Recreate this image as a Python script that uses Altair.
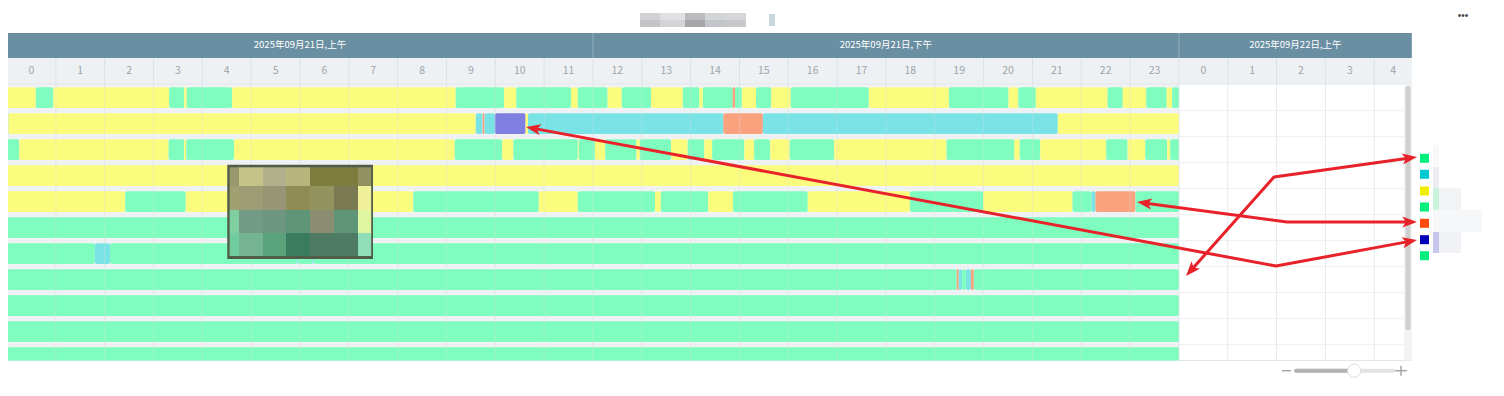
import math
import altair as alt
import pandas as pd

# ---------------- data ----------------
STATUS = ["G", "Y", "C", "S", "P"]
STATUS_FILL = ["#7ffdbe", "#fbfb7e", "#79e3e5", "#faa17e", "#7f7fe2"]

row1_edges = [0, 0.59, 0.95, 3.32, 3.63, 3.68, 4.61, 9.19, 10.18, 10.43, 11.55, 11.69, 12.30, 12.59,
              13.19, 13.84, 14.18, 14.25, 14.86, 14.91, 15.05, 15.34, 15.65, 16.05, 17.65, 19.29,
              20.51, 20.71, 21.07, 22.54, 22.85, 23.33, 23.75, 23.86, 24]
row1_states = ("Y G Y G Y G Y G Y G Y G Y G Y G Y G S G Y G Y G Y G Y G Y G Y G Y G").split()

row2_edges = [0, 0.03, 9.60, 9.74, 9.78, 9.99, 10.62, 10.67, 14.67, 15.48, 21.52, 24]
row2_states = ("C Y C S C P Y C S C Y").split()

row3_edges = [0, 0.25, 3.31, 3.63, 3.67, 4.65, 9.17, 10.14, 10.37, 11.69, 11.71, 12.04, 12.25, 12.89,
              12.96, 13.60, 13.94, 14.28, 14.44, 15.10, 15.30, 15.63, 16.03, 16.94, 19.24, 20.63,
              20.74, 21.16, 22.51, 22.95, 23.31, 23.76, 23.82, 24]
row3_states = ("G Y G Y G Y G Y G Y G Y G Y G Y G Y G Y G Y G Y G Y G Y G Y G Y G").split()

row4_edges = [0, 24]
row4_states = ["Y"]

row5_edges = [0, 2.42, 3.66, 8.32, 10.89, 11.69, 13.27, 13.39, 14.36, 14.87, 16.40, 18.49, 19.99,
              21.82, 22.21, 22.29, 23.11, 24]
row5_states = ("Y G Y G Y G Y G Y G Y G Y G C S G").split()

row6_edges = [0, 24]
row6_states = ["G"]

row7_edges = [0, 1.80, 2.11, 5.93, 5.96, 6.26, 6.29, 24]
row7_states = ("G C G C G C G").split()

row8_edges = [0, 19.45, 19.49, 19.56, 19.64, 19.74, 19.80, 24]
row8_states = ("G S C G C S G").split()

row9_edges = [0, 24]
row9_states = ["G"]
row10_edges = [0, 24]
row10_states = ["G"]
row11_edges = [0, 24]
row11_states = ["G"]

ROW_EDGES = [row1_edges, row2_edges, row3_edges, row4_edges, row5_edges, row6_edges,
             row7_edges, row8_edges, row9_edges, row10_edges, row11_edges]
ROW_STATES = [row1_states, row2_states, row3_states, row4_states, row5_states, row6_states,
              row7_states, row8_states, row9_states, row10_states, row11_states]

DAY_LABELS = ["2025年09月21日,上午", "2025年09月21日,下午", "2025年09月22日,上午"]
DAY_STARTS = [0, 12, 24]
DAY_ENDS = [12, 24, 28.77]
HOURS = list(range(29))
HOUR_LABELS = [str(h % 24) for h in HOURS]

LEGEND_COLORS = ["#00ee7b", "#00c9cf", "#f2ee00", "#00ee7b", "#ff4a0e", "#0000b8", "#00ee7b"]

# ---------------- geometry / scales ----------------
W, H = 1488, 372
PXH, PXR = 48.83, 26.0
H0 = 1.0 / PXH
H1 = H0 + W / PXH
R0 = (8 - 97.65) / PXR
R1 = R0 + H / PXR
VIEW_END = 28.77
HDR_TOP, HDR_MID, HDR_BOT = -2.487, -1.525, -0.525
ROWS_BOT = 10.11
HALF = 0.398

XS = alt.Scale(domain=[H0, H1], nice=False, zero=False)
YS = alt.Scale(domain=[R0, R1], nice=False, zero=False, reverse=True)
CJK = "Noto Sans CJK SC"
RED = "#e8222a"


def X(f):
    return alt.X(f"{f}:Q", scale=XS, axis=None)


def Y(f):
    return alt.Y(f"{f}:Q", scale=YS, axis=None)


def X2(f):
    return alt.X2(f"{f}:Q")


def Y2(f):
    return alt.Y2(f"{f}:Q")


def rects(df, **kw):
    return alt.Chart(df).mark_rect(**kw).encode(x=X("x"), x2=X2("x2"), y=Y("y"), y2=Y2("y2"))


layers = []

# header band
layers.append(rects(pd.DataFrame([dict(x=0, x2=VIEW_END, y=HDR_TOP, y2=HDR_MID)]), color="#6a8fa3"))
layers.append(alt.Chart(pd.DataFrame(dict(x=[12, 24], y=HDR_TOP, y2=HDR_MID))).mark_rule(
    color="#93adbc", strokeWidth=1).encode(x=X("x"), y=Y("y"), y2=Y2("y2")))
day_df = pd.DataFrame(dict(t=DAY_LABELS, s=DAY_STARTS, e=DAY_ENDS))
day_df["x"] = (day_df["s"] + day_df["e"]) / 2
day_df["y"] = (HDR_TOP + HDR_MID) / 2
layers.append(alt.Chart(day_df).mark_text(font=CJK, fontSize=9.5, color="#ffffff", align="center",
                                          baseline="middle").encode(x=X("x"), y=Y("y"), text="t:N"))

# hour row
layers.append(rects(pd.DataFrame([dict(x=0, x2=VIEW_END, y=HDR_MID, y2=HDR_BOT)]), color="#edf1f4"))
layers.append(alt.Chart(pd.DataFrame(dict(x=HOURS[1:], y=HDR_MID, y2=HDR_BOT))).mark_rule(
    color="#dbe2e7", strokeWidth=1).encode(x=X("x"), y=Y("y"), y2=Y2("y2")))
hr_df = pd.DataFrame(dict(h=HOURS, t=HOUR_LABELS))
hr_df["x"] = [(h + min(h + 1, VIEW_END)) / 2 for h in HOURS]
hr_df["y"] = (HDR_MID + HDR_BOT) / 2
layers.append(alt.Chart(hr_df).mark_text(font=CJK, fontSize=10.5, color="#a0a5aa", align="center",
                                         baseline="middle").encode(x=X("x"), y=Y("y"), text="t:N"))

# rows area background, grid
layers.append(rects(pd.DataFrame([dict(x=0, x2=24, y=HDR_BOT, y2=ROWS_BOT)]), color="#f0f2f4"))
layers.append(alt.Chart(pd.DataFrame(dict(x=HOURS, y=HDR_BOT, y2=ROWS_BOT))).mark_rule(
    color="#e6eaed", strokeWidth=1).encode(x=X("x"), y=Y("y"), y2=Y2("y2")))
hl = pd.DataFrame(dict(y=[i + 0.5 for i in range(10)], x=0, x2=VIEW_END))
layers.append(alt.Chart(hl).mark_rule(color="#edf0f2", strokeWidth=1).encode(x=X("x"), x2=X2("x2"), y=Y("y")))
layers.append(alt.Chart(pd.DataFrame(dict(y=[HDR_BOT, ROWS_BOT], x=0, x2=VIEW_END))).mark_rule(
    color="#e1e6ea", strokeWidth=1).encode(x=X("x"), x2=X2("x2"), y=Y("y")))

# bars
seg = []
for i, (edges, states) in enumerate(zip(ROW_EDGES, ROW_STATES)):
    for a, b, s in zip(edges[:-1], edges[1:], states):
        seg.append(dict(row=i, start=a, end=b, status=s))
seg_df = pd.DataFrame(seg)
layers.append(alt.Chart(seg_df).mark_rect(cornerRadius=2).transform_calculate(
    y0=f"datum.row - {HALF}", y1=f"min(datum.row + {HALF}, {ROWS_BOT})"
).encode(x=X("start"), x2=X2("end"), y=Y("y0"), y2=Y2("y1"),
         color=alt.Color("status:N", scale=alt.Scale(domain=STATUS, range=STATUS_FILL), legend=None)))
# faint hour lines over the bars
layers.append(alt.Chart(pd.DataFrame(dict(x=HOURS[1:25], y=HDR_BOT, y2=ROWS_BOT))).mark_rule(
    color="#d9e0e4", strokeWidth=1, opacity=0.35).encode(x=X("x"), y=Y("y"), y2=Y2("y2")))

# scrollbar
layers.append(rects(pd.DataFrame([dict(x=28.609, x2=28.773, y=HDR_BOT, y2=ROWS_BOT)]), color="#f3f3f3"))
layers.append(rects(pd.DataFrame([dict(x=28.640, x2=28.743, y=-0.448, y2=8.937)]), color="#cfcfcf",
                    cornerRadius=2))

# redaction mosaic over the chart
layers.append(rects(pd.DataFrame([dict(x=4.511, x2=7.495, y=2.579, y2=6.206)]), color="#505c47"))
MOS_X = [4.559, 4.751, 5.243, 5.714, 6.205, 6.697, 7.188, 7.459]
MOS_Y = [2.679, 3.398, 4.321, 5.206, 6.090]
MOS_C = [["#98986e", "#c4c488", "#b0b08a", "#b8b57c", "#7e7d40", "#7e7d40", "#929160"],
         ["#a1a070", "#9d9d75", "#969677", "#8d8d55", "#939360", "#7a7a52", "#f0f09a"],
         ["#7fcfa0", "#739a85", "#6e9580", "#5e9478", "#8a8d6f", "#5e9477", "#e0f5a0"],
         ["#70cc9c", "#74b394", "#5aa27a", "#3b7c60", "#4f7a64", "#4f7a64", "#90deb8"]]
mos = [dict(x=MOS_X[j], x2=MOS_X[j + 1], y=MOS_Y[i], y2=MOS_Y[i + 1], c=MOS_C[i][j])
       for i in range(4) for j in range(7)]
layers.append(alt.Chart(pd.DataFrame(mos)).mark_rect().encode(
    x=X("x"), x2=X2("x2"), y=Y("y"), y2=Y2("y2"), color=alt.Color("c:N", scale=None)))

# redacted title
TX = [12.963, 13.373, 13.885, 14.294, 14.704, 15.134]
TY = [-3.256, -2.987, -2.717]
TC = [["#d2d2d5", "#e0e0e2", "#bcbcbf", "#d2d5d8", "#d6d6d9"],
      ["#c4c4c7", "#d4d4d7", "#a6a6aa", "#c2c6ca", "#c8c8cb"]]
tm = [dict(x=TX[j], x2=TX[j + 1], y=TY[i], y2=TY[i + 1], c=TC[i][j]) for i in range(2) for j in range(5)]
tm.append(dict(x=15.605, x2=15.728, y=-3.217, y2=-2.756, c="#c9d8dd"))
layers.append(alt.Chart(pd.DataFrame(tm)).mark_rect().encode(
    x=X("x"), x2=X2("x2"), y=Y("y"), y2=Y2("y2"), color=alt.Color("c:N", scale=None)))

# "more" dots
layers.append(alt.Chart(pd.DataFrame([dict(x=29.817, y=-3.14, t="•••")])).mark_text(
    fontSize=10, color="#444444", align="center", baseline="middle").encode(x=X("x"), y=Y("y"), text="t:N"))

# legend (labels blurred)
blur = [dict(x=29.203, x2=29.326, y=1.821, y2=2.667, c="#f8f9fa"),
        dict(x=29.203, x2=29.326, y=2.667, y2=3.475, c="#eceef2"),
        dict(x=29.203, x2=29.776, y=3.475, y2=4.321, c="#f1f3f5"),
        dict(x=29.203, x2=29.326, y=3.475, y2=4.321, c="#c8f3dc"),
        dict(x=29.203, x2=30.207, y=4.321, y2=5.167, c="#f6f7f8"),
        dict(x=29.203, x2=29.776, y=5.167, y2=5.975, c="#f1f2f5"),
        dict(x=29.203, x2=29.326, y=5.167, y2=5.975, c="#c6c6ee")]
layers.append(alt.Chart(pd.DataFrame(blur)).mark_rect().encode(
    x=X("x"), x2=X2("x2"), y=Y("y"), y2=Y2("y2"), color=alt.Color("c:N", scale=None)))
leg = pd.DataFrame(dict(y=[2.333, 2.948, 3.590, 4.206, 4.833, 5.463, 6.079], c=LEGEND_COLORS))
leg["x"] = 29.029
layers.append(alt.Chart(leg).mark_square(size=81, opacity=1).encode(
    x=X("x"), y=Y("y"), color=alt.Color("c:N", scale=None)))

# annotation arrows (in hour / row units)
ARROWS = [[(10.629, 1.129), (25.988, 6.475), (28.876, 5.475)],
          [(23.142, 4.013), (26.213, 4.783), (28.876, 4.783)],
          [(24.145, 6.860), (25.947, 3.052), (28.876, 2.283)]]
line_rows, head_rows = [], []
for k, pts in enumerate(ARROWS):
    pts = [list(p) for p in pts]
    for tip_i, nb_i in ((0, 1), (len(pts) - 1, len(pts) - 2)):
        th, tr = pts[tip_i]
        nh, nr = pts[nb_i]
        dx, dy = (th - nh) * PXH, (tr - nr) * PXR
        L = math.hypot(dx, dy)
        ang = math.degrees(math.atan2(dx, -dy)) % 360
        head_rows.append(dict(x=th, y=tr, ang=ang))
        pts[tip_i] = [th - dx / L * 9 / PXH, tr - dy / L * 9 / PXR]
    for o, (h, r) in enumerate(pts):
        line_rows.append(dict(id=k, o=o, x=h, y=r))
layers.append(alt.Chart(pd.DataFrame(line_rows)).mark_line(color=RED, strokeWidth=3, strokeJoin="round").encode(
    x=X("x"), y=Y("y"), detail="id:N", order="o:Q"))
ARROW_PATH = "M0,0L0.72,1.9L0,1.45L-0.72,1.9Z"
layers.append(alt.Chart(pd.DataFrame(head_rows)).mark_point(
    shape=ARROW_PATH, filled=True, size=240, color=RED, opacity=1, strokeWidth=0).encode(
    x=X("x"), y=Y("y"), angle=alt.Angle("ang:Q", scale=None)))

# zoom slider
SY = 10.502
layers.append(alt.Chart(pd.DataFrame([dict(x=26.398, x2=28.385, y=SY)])).mark_rule(
    color="#e3e3e3", strokeWidth=4, strokeCap="round").encode(x=X("x"), x2=X2("x2"), y=Y("y")))
layers.append(alt.Chart(pd.DataFrame([dict(x=26.398, x2=27.56, y=SY)])).mark_rule(
    color="#b3b3b3", strokeWidth=4, strokeCap="round").encode(x=X("x"), x2=X2("x2"), y=Y("y")))
layers.append(alt.Chart(pd.DataFrame([dict(x=27.589, y=SY)])).mark_point(
    shape="circle", filled=True, size=170, color="#ffffff", stroke="#dddddd", strokeWidth=1, opacity=1
).encode(x=X("x"), y=Y("y")))
layers.append(alt.Chart(pd.DataFrame([dict(x=26.111, x2=26.295, y=SY), dict(x=28.426, x2=28.671, y=SY)])).mark_rule(
    color="#a6a6a6", strokeWidth=1.5).encode(x=X("x"), x2=X2("x2"), y=Y("y")))
layers.append(alt.Chart(pd.DataFrame([dict(x=28.548, y=SY - 0.19, y2=SY + 0.19)])).mark_rule(
    color="#a6a6a6", strokeWidth=1.5).encode(x=X("x"), y=Y("y"), y2=Y2("y2")))

chart = alt.layer(*layers).properties(
    width=W, height=H, padding=0, autosize=alt.AutoSizeParams(type="none")
).configure_view(stroke=None)

chart.save("out.html", embed_options={"renderer": "svg", "actions": False})
